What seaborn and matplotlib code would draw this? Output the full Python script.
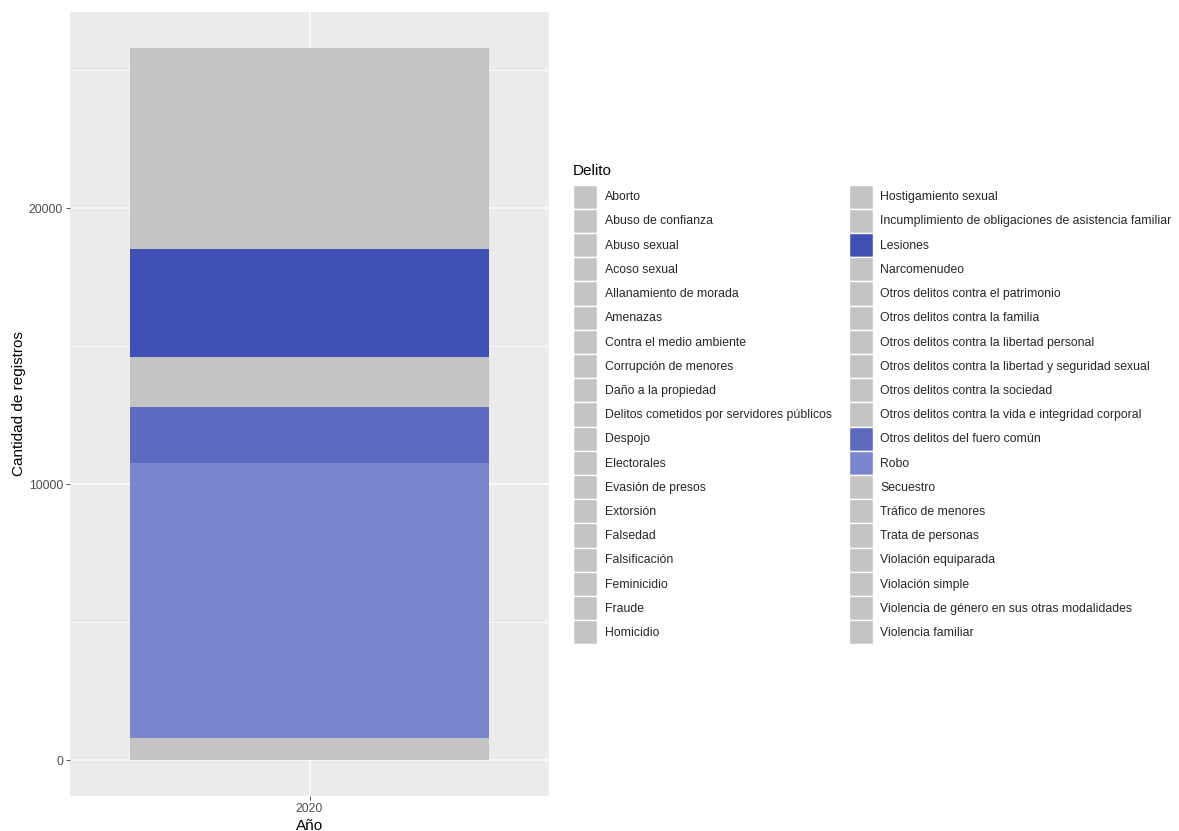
import pandas as pd
import seaborn as sns
import matplotlib.pyplot as plt
from matplotlib.patches import Patch
from matplotlib.ticker import FixedLocator

delitos = [
    'Aborto', 'Abuso de confianza', 'Abuso sexual', 'Acoso sexual',
    'Allanamiento de morada', 'Amenazas', 'Contra el medio ambiente',
    'Corrupción de menores', 'Daño a la propiedad',
    'Delitos cometidos por servidores públicos', 'Despojo', 'Electorales',
    'Evasión de presos', 'Extorsión', 'Falsedad', 'Falsificación',
    'Feminicidio', 'Fraude', 'Homicidio', 'Hostigamiento sexual',
    'Incumplimiento de obligaciones de asistencia familiar', 'Lesiones',
    'Narcomenudeo', 'Otros delitos contra el patrimonio',
    'Otros delitos contra la familia', 'Otros delitos contra la libertad personal',
    'Otros delitos contra la libertad y seguridad sexual',
    'Otros delitos contra la sociedad',
    'Otros delitos contra la vida e integridad corporal',
    'Otros delitos del fuero común', 'Robo', 'Secuestro', 'Tráfico de menores',
    'Trata de personas', 'Violación equiparada', 'Violación simple',
    'Violencia de género en sus otras modalidades', 'Violencia familiar',
]
registros = [
    60, 520, 540, 80, 200, 1020, 20, 30, 1067, 150, 400, 5, 5, 100, 100, 224,
    20, 306, 900, 60, 1499, 3906, 700, 400, 250, 150, 100, 50, 158, 2026, 9981,
    20, 6, 10, 40, 80, 30, 610,
]
anio = ['2020'] * len(delitos)

destacados = {
    'Lesiones': '#3F51B5',
    'Otros delitos del fuero común': '#5C6BC0',
    'Robo': '#7986CB',
}
gris = '#C4C4C4'
palette = {d: destacados.get(d, gris) for d in delitos}

df = pd.DataFrame({'Año': anio, 'Delito': delitos, 'Registros': registros})
# ggplot pone el primer nivel arriba: tope acumulado desde el ultimo nivel
df['tope'] = df['Registros'][::-1].cumsum()[::-1]

sns.set_theme(style='darkgrid', rc={'axes.facecolor': '#EBEBEB',
                                    'grid.color': 'white'})
plt.rcParams['font.family'] = ['Liberation Sans', 'DejaVu Sans']

fig = plt.figure(figsize=(11.79, 8.31), dpi=100)
ax = fig.add_axes([70 / 1179, 35 / 831, 479 / 1179, 784 / 831])

sns.barplot(data=df, x='Año', y='tope', hue='Delito', hue_order=delitos,
            palette=palette, dodge=False, width=0.9, saturation=1,
            linewidth=0, errorbar=None, legend=False, ax=ax)

total = sum(registros)
ax.set_xlim(-0.6, 0.6)
ax.set_ylim(-0.05 * total, 1.05 * total)
ax.set_yticks([0, 10000, 20000])
ax.set_yticklabels(['0', '10000', '20000'])
ax.yaxis.set_minor_locator(FixedLocator([5000, 15000, 25000]))
ax.set_axisbelow(True)
ax.grid(which='major', color='white', linewidth=1.1)
ax.grid(which='minor', color='white', linewidth=0.55)
ax.tick_params(which='minor', length=0)
ax.tick_params(which='major', length=2.75, width=0.6, color='#333333',
               labelcolor='#4D4D4D', labelsize=8.8, pad=2.2,
               left=True, bottom=True)
for s in ax.spines.values():
    s.set_visible(False)
ax.set_xlabel('Año', fontsize=11, color='black', labelpad=3)
ax.set_ylabel('Cantidad de registros', fontsize=11, color='black', labelpad=1.8)

handles = [Patch(facecolor=palette[d], edgecolor='white', linewidth=1)
           for d in delitos]
fig.legend(handles, delitos, loc='upper left',
           bbox_to_anchor=(573 / 1179, 1 - 184.5 / 831), ncol=2, frameon=False,
           fontsize=8.8, handlelength=1.96, handleheight=2.67,
           labelspacing=0.0, handletextpad=0.62, columnspacing=1.4,
           borderpad=0, borderaxespad=0)
fig.text(573 / 1179, 1 - 171 / 831, 'Delito', fontsize=11, color='black',
         ha='left', va='center')

fig.savefig('out.png', dpi=100)
